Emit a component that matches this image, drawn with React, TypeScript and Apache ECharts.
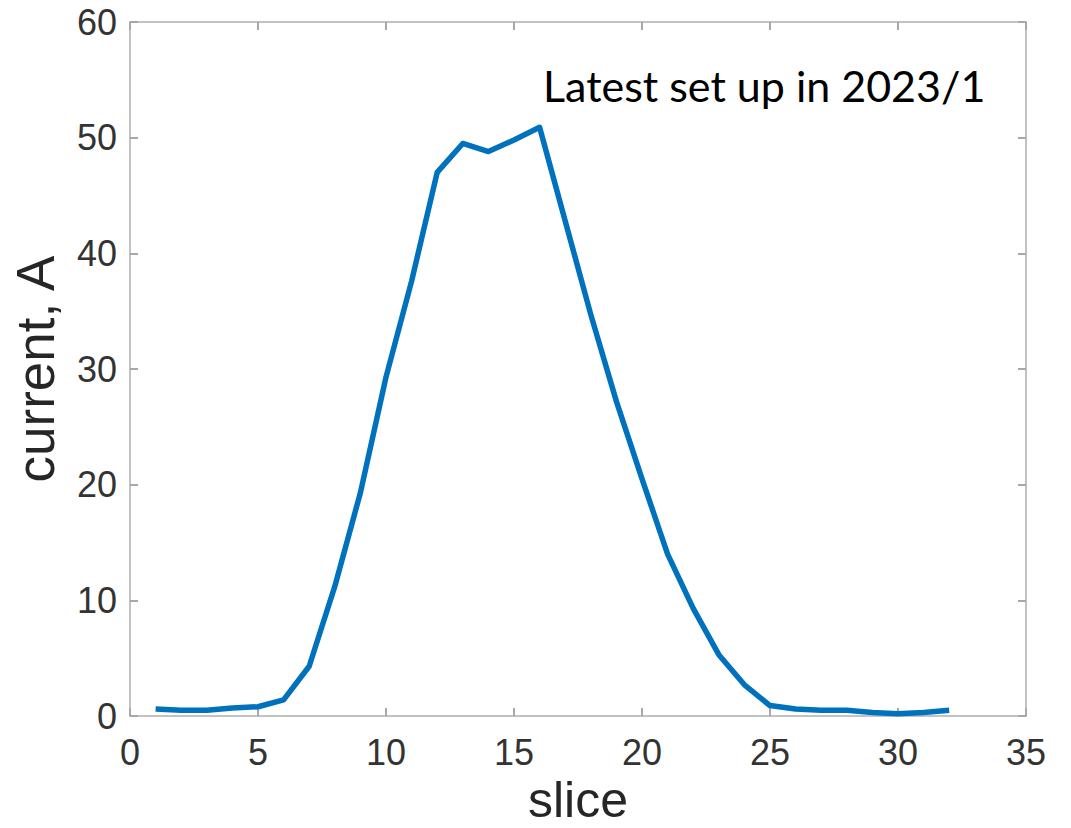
import React, { useEffect, useRef } from "react";
import * as echarts from "echarts";

const slices = [1, 2, 3, 4, 5, 6, 7, 8, 9, 10, 11, 12, 13, 14, 15, 16, 17, 18, 19, 20, 21, 22, 23, 24, 25, 26, 27, 28, 29, 30, 31, 32];
const currents = [0.6, 0.5, 0.5, 0.7, 0.8, 1.4, 4.3, 11.2, 19.3, 29.3, 37.6, 47.0, 49.5, 48.8, 49.8, 50.9, 42.8, 34.7, 27.2, 20.5, 14.0, 9.3, 5.3, 2.7, 0.9, 0.6, 0.5, 0.5, 0.3, 0.2, 0.3, 0.5];
const xTicks = { min: 0, max: 35, interval: 5 };
const yTicks = { min: 0, max: 60, interval: 10 };
const xName = "slice";
const yName = "current, A";
const note = "Latest set up in 2023/1";

export default function App() {
  const ref = useRef<HTMLDivElement>(null);
  useEffect(() => {
    document.body.style.margin = "0";
    const chart = echarts.init(ref.current!, null, { renderer: "svg" });
    const lineColor = "#c2c2c2";
    const tickColor = "#a8a8a8";
    const font = "'Liberation Sans', Arial, sans-serif";
    const line = () => ({ show: true, onZero: false, lineStyle: { color: lineColor, width: 2 } });
    const tick = () => ({ show: true, inside: true, length: 8, lineStyle: { color: tickColor, width: 2 } });
    chart.setOption({
      animation: false,
      backgroundColor: "#ffffff",
      grid: {
        left: 130, top: 22, right: 45, bottom: 112,
        containLabel: false, outerBoundsMode: "none",
        show: true, borderColor: lineColor, borderWidth: 2, backgroundColor: "transparent",
      },
      xAxis: [
        {
          type: "value",
          position: "bottom",
          ...xTicks,
          axisLine: line(),
          axisTick: tick(),
          splitLine: { show: false },
          name: xName,
          nameLocation: "middle",
          nameGap: 55,
          nameTextStyle: { fontSize: 50, color: "#262626", fontFamily: font },
          axisLabel: { fontSize: 36, color: "#333333", fontFamily: font, margin: 18 },
        },
        {
          type: "value",
          position: "top",
          ...xTicks,
          axisLine: line(),
          axisTick: tick(),
          splitLine: { show: false },
          axisLabel: { show: false },
        },
      ],
      yAxis: [
        {
          type: "value",
          position: "left",
          ...yTicks,
          axisLine: line(),
          axisTick: tick(),
          splitLine: { show: false },
          name: yName,
          nameLocation: "middle",
          nameGap: 68,
          nameTextStyle: { fontSize: 53, color: "#262626", fontFamily: font },
          axisLabel: { fontSize: 36, color: "#333333", fontFamily: font, margin: 13 },
        },
        {
          type: "value",
          position: "right",
          ...yTicks,
          axisLine: line(),
          axisTick: tick(),
          splitLine: { show: false },
          axisLabel: { show: false },
        },
      ],
      series: [
        {
          type: "line",
          xAxisIndex: 0,
          yAxisIndex: 0,
          data: slices.map((s, i) => [s, currents[i]]),
          showSymbol: false,
          symbol: "none",
          lineStyle: { color: "#0072BD", width: 5.5, join: "round", cap: "butt" },
          z: 3,
        },
      ],
      graphic: [
        {
          type: "text",
          left: 543,
          top: 64,
          style: {
            text: note,
            fontSize: 43,
            fontFamily: "Lato, 'Noto Sans', sans-serif",
            fill: "#000000",
          },
          z: 10,
        },
      ],
    });
    return () => chart.dispose();
  }, []);
  return <div ref={ref} style={{ width: 1071, height: 828, position: "absolute", left: 0, top: 0 }} />;
}
